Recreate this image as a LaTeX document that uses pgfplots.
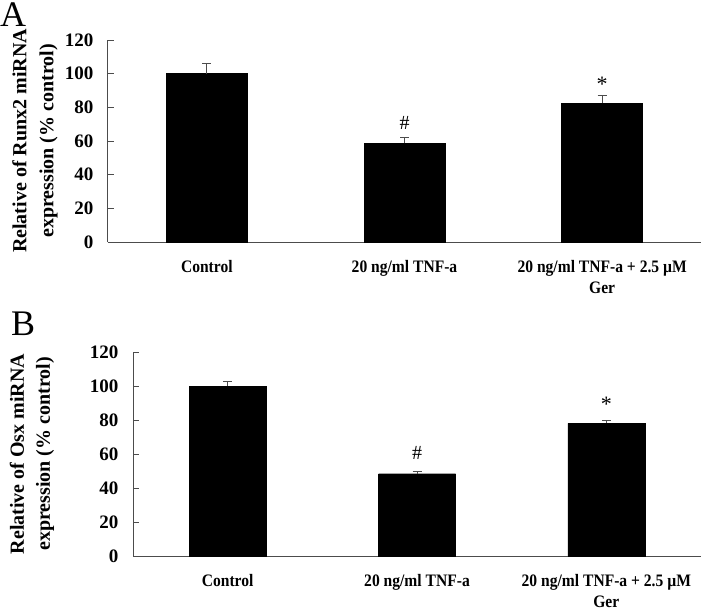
\documentclass[border=0pt]{standalone}
\usepackage{fontspec}
\setmainfont{Liberation Serif}
\newfontfamily\catfont{Liberation Serif}[FakeStretch=0.89]
\usepackage{pgfplots}
\pgfplotsset{compat=1.18}
\definecolor{axcol}{gray}{0.3}
\pgfplotsset{panel/.style={
  scale only axis, axis lines*=left,
  xmin=-0.5, xmax=2.5, ymin=0, ymax=120, ytick={0,20,...,120},
  xtick={0,1,2}, xtick style={draw=none},
  xticklabels={Control, 20 ng/ml TNF-a, {20 ng/ml TNF-a + 2.5 µM\\Ger}},
  extra x ticks={0.5,1.5,2.5}, extra x tick labels={},
  extra x tick style={major tick length=6pt, tick style={draw=axcol, line width=0.9pt}},
  major tick length=6pt, tick align=inside,
  axis line style={draw=axcol, line width=1pt},
  ytick style={draw=axcol, line width=0.9pt},
  /pgf/number format/assume math mode=true,
  yticklabel style={font=\bfseries\fontsize{19}{19}\selectfont, xshift=-11pt},
  xticklabel style={font=\catfont\bfseries\fontsize{17.5}{21}\selectfont, align=center, anchor=north, yshift=-15pt},
  ylabel style={font=\bfseries\fontsize{20}{27}\selectfont, align=center, anchor=center},
}}
\begin{document}
\begin{tikzpicture}
\useasboundingbox (0,0) rectangle (706pt,-610pt);
\node[anchor=base west, font=\fontsize{36}{36}\selectfont, inner sep=0] at (0pt,-27pt) {A};
\node[anchor=base west, font=\fontsize{36}{36}\selectfont, inner sep=0] at (11pt,-335pt) {B};
\begin{axis}[panel, at={(108pt,-242pt)}, anchor=south west, width=593pt, height=202pt,
  ylabel={Relative of Runx2 miRNA\\expression (\% control)},
  ylabel style={at={(axis description cs:-0.123,0.5)}}]
\addplot[ybar, bar width=81pt, fill=black, draw=black,
  error bars/.cd, y dir=plus, y explicit,
  error bar style={draw=axcol, line width=0.9pt},
  error mark options={rotate=90, mark size=4.5pt, line width=0.9pt, draw=axcol}]
  coordinates {(0,100) +- (0,6.1) (1,58.6) +- (0,3.4) (2,82.4) +- (0,4.5)};
\node[font=\fontsize{20}{20}\selectfont] at (axis cs:1,70.7) {\#};
\node[font=\fontsize{22}{22}\selectfont] at (axis cs:2,93.5) {*};
\end{axis}
\begin{axis}[panel, at={(133pt,-556pt)}, anchor=south west, width=568pt, height=204pt,
  ylabel={Relative of Osx miRNA\\expression (\% control)},
  ylabel style={at={(axis description cs:-0.178,0.5)}, font=\bfseries\fontsize{20}{26}\selectfont}]
\addplot[ybar, bar width=77pt, fill=black, draw=black,
  error bars/.cd, y dir=plus, y explicit,
  error bar style={draw=axcol, line width=0.9pt},
  error mark options={rotate=90, mark size=4.5pt, line width=0.9pt, draw=axcol}]
  coordinates {(0,100) +- (0,2.4) (1,48.4) +- (0,1.5) (2,78.0) +- (0,1.6)};
\node[font=\fontsize{20}{20}\selectfont] at (axis cs:1,60.6) {\#};
\node[font=\fontsize{22}{22}\selectfont] at (axis cs:2,89.5) {*};
\end{axis}
\end{tikzpicture}
\end{document}
